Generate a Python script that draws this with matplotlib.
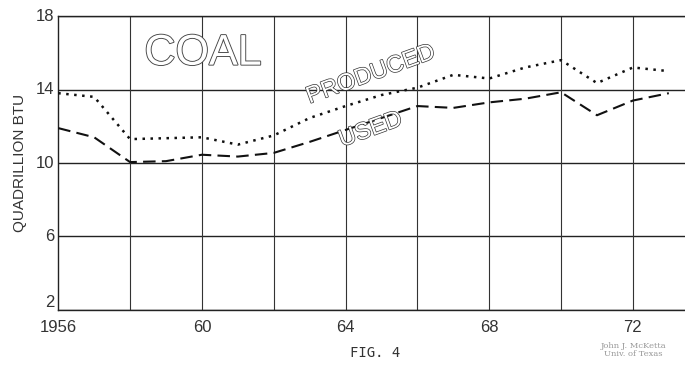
import matplotlib.pyplot as plt
import matplotlib.patheffects as pe

years = list(range(1956, 1974))
produced = [13.8, 13.6, 11.3, 11.35, 11.4, 11.0, 11.5, 12.45, 13.1, 13.7,
            14.1, 14.8, 14.6, 15.2, 15.6, 14.35, 15.2, 15.0]
used = [11.9, 11.4, 10.05, 10.1, 10.45, 10.35, 10.55, 11.15, 11.8, 12.45,
        13.1, 13.0, 13.3, 13.5, 13.85, 12.6, 13.4, 13.8]

xticks = [1956, 1960, 1964, 1968, 1972]
xticklabels = ["1956", "60", "64", "68", "72"]
yticks = [2, 6, 10, 14, 18]

plt.rcParams['font.family'] = ['Liberation Sans', 'DejaVu Sans']

fig = plt.figure(figsize=(6.85, 3.73), dpi=100)
ax = fig.add_axes([0.085, 0.169, 0.915, 0.788])

# grid
for yv in yticks:
    ax.axhline(yv, color="#222222", lw=1.0, zorder=1)
for xv in range(1958, 1974, 2):
    ax.axvline(xv, color="#333333", lw=0.8, zorder=1)

ax.plot(years, produced, color="#111111", lw=1.8, linestyle=(0, (1, 2.2)), zorder=3)
ax.plot(years, used, color="#111111", lw=1.5, linestyle=(0, (6, 3)), zorder=3)

ax.set_xlim(1956, 1973.45)
ax.set_ylim(2, 18)
ax.set_xticks(xticks)
ax.set_xticklabels(xticklabels)
ax.set_yticks(yticks)
ax.tick_params(axis="x", length=0, labelsize=12, colors="#333333", pad=7)
ax.tick_params(axis="y", length=0, labelsize=12, colors="#333333", pad=3)
ylabs = ax.get_yticklabels()
for lab in ylabs:
    lab.set_va("center")
ylabs[0].set_va("bottom")

for side in ["left", "bottom", "top"]:
    ax.spines[side].set_color("#222222")
    ax.spines[side].set_linewidth(1.0)
ax.spines["right"].set_visible(False)

ax.set_ylabel("QUADRILLION BTU", fontsize=11, color="#333333", labelpad=6)

# labels inside the chart
ax.text(1958.4, 15.95, "COAL", fontsize=31, color="white", va="center",
        path_effects=[pe.withStroke(linewidth=1.3, foreground="#444444")])
ax.text(1964.7, 14.8, "PRODUCED", fontsize=17, color="white", rotation=20,
        ha="center", va="center",
        path_effects=[pe.withStroke(linewidth=1.0, foreground="#333333")])
ax.text(1964.7, 11.8, "USED", fontsize=17, color="white", rotation=20,
        ha="center", va="center",
        path_effects=[pe.withStroke(linewidth=1.0, foreground="#333333")])

fig.text(0.547, 0.053, "FIG. 4", fontsize=10, family="DejaVu Sans Mono",
         color="#333333", ha="center", va="center")
fig.text(0.925, 0.062, "John J. McKetta\nUniv. of Texas", fontsize=6,
         family="DejaVu Serif", color="#999999", ha="center", va="center",
         linespacing=1.0)

fig.savefig("out.png", dpi=100)
